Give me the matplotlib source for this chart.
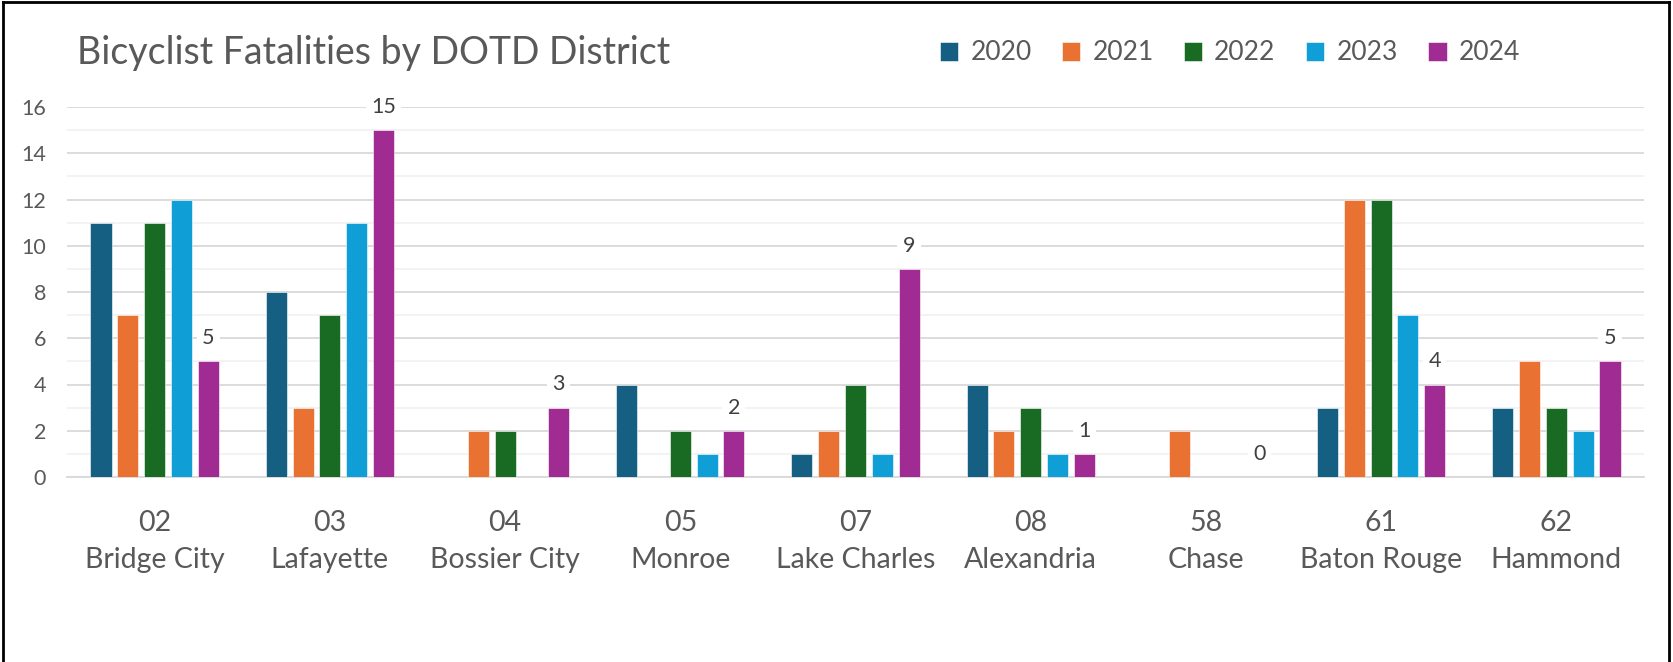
import numpy as np
import matplotlib.pyplot as plt
from matplotlib.lines import Line2D
from matplotlib.ticker import MultipleLocator

plt.rcParams['font.family'] = ['Lato', 'DejaVu Sans']

districts = ['02\nBridge City', '03\nLafayette', '04\nBossier City', '05\nMonroe',
             '07\nLake Charles', '08\nAlexandria', '58\nChase', '61\nBaton Rouge', '62\nHammond']
years = ['2020', '2021', '2022', '2023', '2024']
y2020 = [11, 8, 0, 4, 1, 4, 0, 3, 3]
y2021 = [7, 3, 2, 0, 2, 2, 2, 12, 5]
y2022 = [11, 7, 2, 2, 4, 3, 0, 12, 3]
y2023 = [12, 11, 0, 1, 1, 1, 0, 7, 2]
y2024 = [5, 15, 3, 2, 9, 1, 0, 4, 5]
colors = ['#156082', '#E97132', '#196B24', '#0F9ED5', '#A02B93']

series = [y2020, y2021, y2022, y2023, y2024]

fig = plt.figure(figsize=(16.73, 6.62), dpi=100)
ax = fig.add_axes([67 / 1673, 1 - 477 / 662, (1644 - 67) / 1673, 370 / 662])

x = np.arange(len(districts))
step = 0.153
width = 0.12
for i, vals in enumerate(series):
    ax.bar(x + (i - 2) * step, vals, width, color=colors[i], label=years[i],
           edgecolor='white', linewidth=0.4, zorder=3)

# data labels only on the latest year
for xi, v in zip(x, y2024):
    ax.text(xi + 2 * step, v + 1, str(v), ha='center', va='center', fontsize=15.5,
            color='#404040', zorder=4,
            bbox=dict(boxstyle='square,pad=0.25', fc='white', ec='none'))

ax.set_xlim(-0.5, len(districts) - 0.5)
ax.set_ylim(0, 16)
ax.yaxis.set_major_locator(MultipleLocator(2))
ax.yaxis.set_minor_locator(MultipleLocator(1))
ax.grid(axis='y', which='major', color='#d9d9d9', linewidth=1.3, zorder=0)
ax.grid(axis='y', which='minor', color='#f2f2f2', linewidth=1.3, zorder=0)
for s in ['top', 'right', 'left']:
    ax.spines[s].set_visible(False)
ax.spines['bottom'].set_color('#d9d9d9')
ax.spines['bottom'].set_linewidth(1.3)
ax.set_xticks(x)
ax.set_xticklabels(districts, fontsize=20.5, color='#595959', linespacing=1.5)
ax.tick_params(axis='x', length=0, pad=24)
ax.tick_params(axis='y', which='both', length=0, labelsize=15.5, labelcolor='#595959', pad=15)

fig.text(77 / 1673, 1 - 53 / 662, 'Bicyclist Fatalities by DOTD District', fontsize=27,
         color='#595959', ha='left', va='center')

fig.legend(loc='center left', bbox_to_anchor=(940 / 1673, 1 - 53 / 662), ncol=5, frameon=False,
           fontsize=19, labelcolor='#595959', handlelength=0.7, handleheight=0.7,
           handletextpad=0.45, columnspacing=1.15, borderaxespad=0, borderpad=0)

# outer chart border
for seg in [((3, 3), (0, 660)), ((3, 1669), (660, 660)), ((1669, 1669), (0, 660))]:
    fig.add_artist(Line2D(np.array(seg[0]) / 1673, np.array(seg[1]) / 662,
                          color='black', linewidth=2))

fig.savefig('out.png', dpi=100, facecolor='white')
